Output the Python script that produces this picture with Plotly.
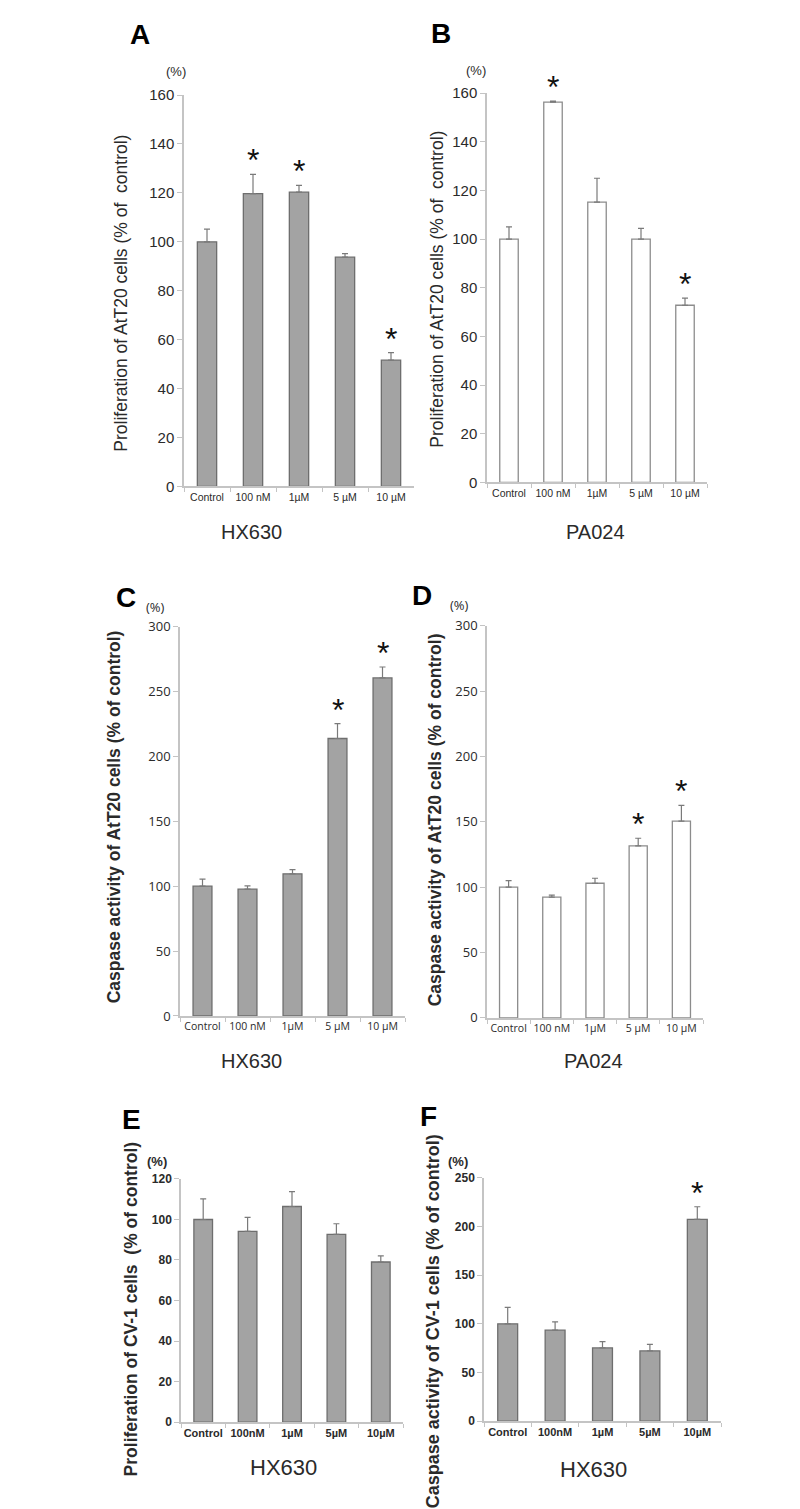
import plotly.graph_objects as go

# ---------------- data ----------------
cats_A = ["Control", "100 nM", "1µM", "5 µM", "10 µM"]
vals_A = [100, 119.7, 120.3, 93.7, 51.6]
err_A = [5.2, 7.9, 2.8, 1.5, 3.1]
star_A = [0, 1, 1, 0, 1]

cats_B = ["Control", "100 nM", "1µM", "5 µM", "10 µM"]
vals_B = [100, 156.3, 115.2, 100, 72.8]
err_B = [5.0, 0.4, 9.8, 4.4, 2.9]
star_B = [0, 1, 0, 0, 1]

cats_C = ["Control", "100 nM", "1µM", "5 µM", "10 µM"]
vals_C = [100, 97.7, 109.5, 213.8, 260.5]
err_C = [5.4, 2.6, 3.3, 11.5, 8.4]
star_C = [0, 0, 0, 1, 1]

cats_D = ["Control", "100 nM", "1µM", "5 µM", "10 µM"]
vals_D = [100, 92.4, 103.0, 131.6, 150.5]
err_D = [5.0, 1.5, 3.8, 5.8, 12.1]
star_D = [0, 0, 0, 1, 1]

cats_E = ["Control", "100nM", "1µM", "5µM", "10µM"]
vals_E = [100, 94.1, 106.4, 92.6, 79.0]
err_E = [10.2, 6.9, 7.4, 5.3, 3.0]
star_E = [0, 0, 0, 0, 0]

cats_F = ["Control", "100nM", "1µM", "5µM", "10µM"]
vals_F = [100, 93.5, 75.2, 72.1, 207.5]
err_F = [17.0, 8.5, 6.4, 6.8, 12.9]
star_F = [0, 0, 0, 0, 1]

W, H = 800, 1509
GRAY_FILL = "#a3a3a3"
GRAY_LINE = "#6e6e6e"
WHITE_FILL = "#ffffff"
WHITE_LINE = "#8c8c8c"
AXIS = "#c4c4c4"
TXT = "#2a2a2a"


def px_x(x):
    return x / W


def px_y(y):
    return 1 - y / H


panels = [
    dict(key="A", cats=cats_A, vals=vals_A, err=err_A, star=star_A,
         fill=GRAY_FILL, line=GRAY_LINE, x0=176, x1=406, yb=475, yt=79,
         ymax=160, dtick=20, letter=(132, 18), pct=(168, 55),
         ytitle="Proliferation of AtT20 cells (% of  control)", ytx=113, ytc=279,
         ybold=False, xtitle="HX630", xt=(243, 521), xts=20, fam="Liberation Sans",
         ytick=15, xtick=10.5, tfs=17.5),
    dict(key="B", cats=cats_B, vals=vals_B, err=err_B, star=star_B,
         fill=WHITE_FILL, line=WHITE_LINE, x0=479, x1=699, yb=471, yt=77,
         ymax=160, dtick=20, letter=(433, 17), pct=(468, 54),
         ytitle="Proliferation of AtT20 cells (% of  control)", ytx=429, ytc=276,
         ybold=False, xtitle="PA024", xt=(587, 521), xts=20, fam="Liberation Sans",
         ytick=15, xtick=10.5, tfs=17.5),
    dict(key="C", cats=cats_C, vals=vals_C, err=err_C, star=star_C,
         fill=GRAY_FILL, line=GRAY_LINE, x0=172, x1=397, yb=1011, yt=617,
         ymax=300, dtick=50, letter=(118, 588), pct=(147, 597),
         ytitle="Caspase activity of AtT20 cells (% of control)", ytx=106, ytc=810,
         ybold=True, xtitle="HX630", xt=(243, 1057), xts=20, fam="Open Sans",
         ytick=13, xtick=10.5, tfs=17.5),
    dict(key="D", cats=cats_D, vals=vals_D, err=err_D, star=star_D,
         fill=WHITE_FILL, line=WHITE_LINE, x0=479, x1=695, yb=1013, yt=616,
         ymax=300, dtick=50, letter=(414, 585), pct=(452, 595),
         ytitle="Caspase activity of AtT20 cells (% of control)", ytx=427, ytc=812,
         ybold=True, xtitle="PA024", xt=(585, 1057), xts=20, fam="Open Sans",
         ytick=13, xtick=10.5, tfs=17.5),
    dict(key="E", cats=cats_E, vals=vals_E, err=err_E, star=star_E,
         fill=GRAY_FILL, line=GRAY_LINE, x0=173, x1=395, yb=1422, yt=1176,
         ymax=120, dtick=20, letter=(123, 1116), pct=(149, 1158),
         ytitle="Proliferation of CV-1 cells  (% of control)", ytx=123, ytc=1308,
         ybold=True, xtitle="HX630", xt=(275, 1468), xts=22, fam="Liberation Sans",
         ytick=12, xtick=11, tfs=17.5, xbold=True),
    dict(key="F", cats=cats_F, vals=vals_F, err=err_F, star=star_F,
         fill=GRAY_FILL, line=GRAY_LINE, x0=476, x1=713, yb=1421, yt=1175,
         ymax=250, dtick=50, letter=(420, 1113), pct=(450, 1158),
         ytitle="Caspase activity of CV-1 cells (% of control)", ytx=425, ytc=1320,
         ybold=True, xtitle="HX630", xt=(585, 1470), xts=22, fam="Liberation Sans",
         ytick=12, xtick=11, tfs=18, xbold=True),
]

fig = go.Figure()
annotations = []
layout = {}

for i, p in enumerate(panels):
    n = "" if i == 0 else str(i + 1)
    xa, ya = "x" + n, "y" + n
    bold = p.get("xbold", False)
    fig.add_trace(go.Bar(
        x=p["cats"], y=p["vals"], xaxis=xa, yaxis=ya, width=0.42,
        marker=dict(color=p["fill"], line=dict(color=p["line"], width=1.3)),
        error_y=dict(type="data", array=p["err"], arrayminus=[0] * len(p["err"]),
                     symmetric=False, color="#7a7a7a", thickness=1.2, width=3),
        showlegend=False, hoverinfo="skip"))
    tickfont_y = dict(family=p["fam"], size=p["ytick"], color=TXT)
    tickfont_x = dict(family=p["fam"], size=p["xtick"], color=TXT)
    if bold:
        tickfont_y["weight"] = "bold"
        tickfont_x["weight"] = "bold"
    layout["xaxis" + n] = dict(
        domain=[px_x(p["x0"]), px_x(p["x1"])], anchor=ya, type="category",
        showline=True, linecolor=AXIS, linewidth=1.5, ticks="outside",
        tickson="boundaries", ticklen=4, tickcolor=AXIS, tickfont=tickfont_x,
        tickangle=0, showgrid=False, zeroline=False, fixedrange=True)
    layout["yaxis" + n] = dict(
        domain=[px_y(p["yb"]), px_y(p["yt"])], anchor=xa,
        range=[0, p["ymax"]], dtick=p["dtick"], showline=True, linecolor=AXIS,
        linewidth=1.5, ticks="outside", ticklen=5, tickcolor=AXIS,
        tickfont=tickfont_y, showgrid=False, zeroline=False, fixedrange=True)
    # significance stars
    for c, v, e, s in zip(p["cats"], p["vals"], p["err"], p["star"]):
        if s:
            annotations.append(dict(
                x=c, y=v + e, xref=xa, yref=ya, text="*", showarrow=False,
                yanchor="bottom", yshift=-6,
                font=dict(family="Liberation Sans", size=32, color="#111")))
    # panel letter
    annotations.append(dict(
        x=px_x(p["letter"][0]), y=px_y(p["letter"][1]), xref="paper", yref="paper",
        text="<b>%s</b>" % p["key"], showarrow=False, xanchor="center", yanchor="middle",
        font=dict(family="Liberation Sans", size=28, color="#000")))
    # (%)
    pct_font = dict(family=p["fam"], size=13, color=TXT)
    annotations.append(dict(
        x=px_x(p["pct"][0]), y=px_y(p["pct"][1]), xref="paper", yref="paper",
        text="<b>(%)</b>" if bold else "(%)", showarrow=False,
        xanchor="center", yanchor="middle", font=pct_font))
    # y title
    ttl = "<b>%s</b>" % p["ytitle"] if p["ybold"] else p["ytitle"]
    annotations.append(dict(
        x=px_x(p["ytx"]), y=px_y(p["ytc"]), xref="paper", yref="paper",
        text=ttl, showarrow=False, textangle=-90, xanchor="center", yanchor="middle",
        font=dict(family="Liberation Sans", size=p["tfs"], color=TXT)))
    # x title
    annotations.append(dict(
        x=px_x(p["xt"][0]), y=px_y(p["xt"][1]), xref="paper", yref="paper",
        text=p["xtitle"], showarrow=False, xanchor="center", yanchor="middle",
        font=dict(family="Liberation Sans", size=p["xts"], color=TXT)))

fig.update_layout(
    width=W, height=H, margin=dict(l=0, r=0, t=0, b=0),
    paper_bgcolor="white", plot_bgcolor="white", annotations=annotations,
    bargap=0.5, **layout)

fig.write_html("out.html")
